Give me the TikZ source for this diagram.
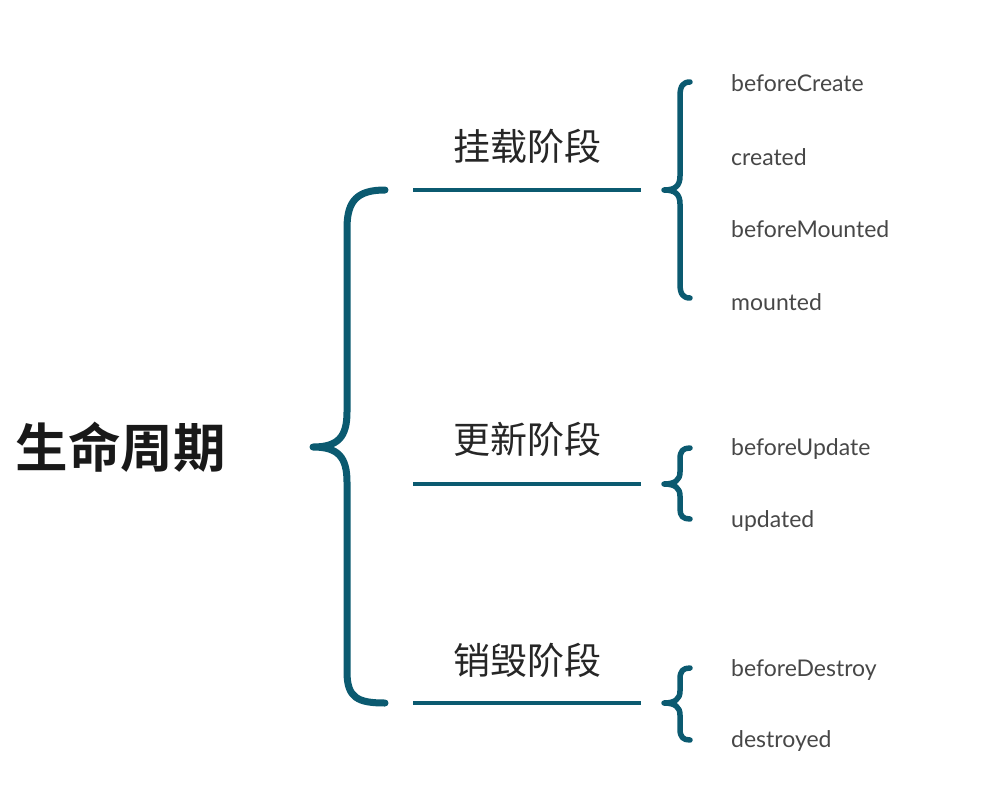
\documentclass[tikz,border=0pt]{standalone}
\usepackage{fontspec}
\setmainfont{Lato}
\newfontfamily\cjk{Noto Sans CJK SC}
\newfontfamily\cjkb{Noto Sans CJK SC Bold}
\definecolor{teal}{HTML}{0B5A70}
\begin{document}
\begin{tikzpicture}[x=1pt,y=-1pt,
  bigbrace/.style={draw=teal,line width=7pt,line cap=round,line join=round},
  smallbrace/.style={draw=teal,line width=5.5pt,line cap=round,line join=round},
  stemline/.style={draw=teal,line width=4pt},
  stage/.style={font=\cjk\fontsize{37}{42}\selectfont,text=black!85,inner sep=0pt},
  hook/.style={font=\fontsize{23}{26}\selectfont,text=black!72,anchor=west,inner sep=0pt},
  title/.style={font=\cjkb\fontsize{52.5}{58}\selectfont,text=black!90,inner sep=0pt}]
\useasboundingbox (0,0) rectangle (1004,788);
\node[title] (life) at (121,447) {生命周期};
% big brace
\coordinate (bt) at (385,190);
\coordinate (bm) at (313,447);
\coordinate (bb) at (385,703);
\draw[bigbrace] (bt) .. controls (358,190) and (347,200) .. (347,228) -- (347,412)
  .. controls (347,437) and (338,447) .. (bm)
  .. controls (338,447) and (347,457) .. (347,482) -- (347,672)
  .. controls (347,698) and (358,703) .. (bb);
% stage lines
\coordinate (l1a) at (413,190); \coordinate (l1b) at (641,190);
\coordinate (l2a) at (413,484); \coordinate (l2b) at (641,484);
\coordinate (l3a) at (413,703); \coordinate (l3b) at (641,703);
\draw[stemline] (l1a) -- (l1b);
\draw[stemline] (l2a) -- (l2b);
\draw[stemline] (l3a) -- (l3b);
\node[stage] (s1) at (527,146) {挂载阶段};
\node[stage] (s2) at (527,439) {更新阶段};
\node[stage] (s3) at (527,660) {销毁阶段};
% small brace 1
\coordinate (a1t) at (690,82); \coordinate (a1m) at (664,190); \coordinate (a1b) at (690,298);
\draw[smallbrace] (a1t) .. controls (683,82) and (680,86) .. (680,96) -- (680,176)
  .. controls (680,186) and (675,190) .. (a1m)
  .. controls (675,190) and (680,194) .. (680,204) -- (680,284)
  .. controls (680,294) and (683,298) .. (a1b);
% small brace 2
\coordinate (a2t) at (690,448); \coordinate (a2m) at (664,484); \coordinate (a2b) at (690,519);
\draw[smallbrace] (a2t) .. controls (683,448) and (680,451) .. (680,459) -- (680,472)
  .. controls (680,480) and (675,484) .. (a2m)
  .. controls (675,484) and (680,488) .. (680,496) -- (680,509)
  .. controls (680,516) and (683,519) .. (a2b);
% small brace 3
\coordinate (a3t) at (690,668); \coordinate (a3m) at (664,703); \coordinate (a3b) at (690,740);
\draw[smallbrace] (a3t) .. controls (683,668) and (680,671) .. (680,679) -- (680,691)
  .. controls (680,699) and (675,703) .. (a3m)
  .. controls (675,703) and (680,707) .. (680,715) -- (680,729)
  .. controls (680,737) and (683,740) .. (a3b);
% hooks
\node[hook] (h1) at (731,83) {beforeCreate};
\node[hook] (h2) at (731,157) {created};
\node[hook] (h3) at (731,229) {beforeMounted};
\node[hook] (h4) at (731,302) {mounted};
\node[hook] (h5) at (731,449) {beforeUpdate};
\node[hook] (h6) at (731,521) {updated};
\node[hook] (h7) at (731,670) {beforeDestroy};
\node[hook] (h8) at (731,741) {destroyed};
\end{tikzpicture}
\end{document}
